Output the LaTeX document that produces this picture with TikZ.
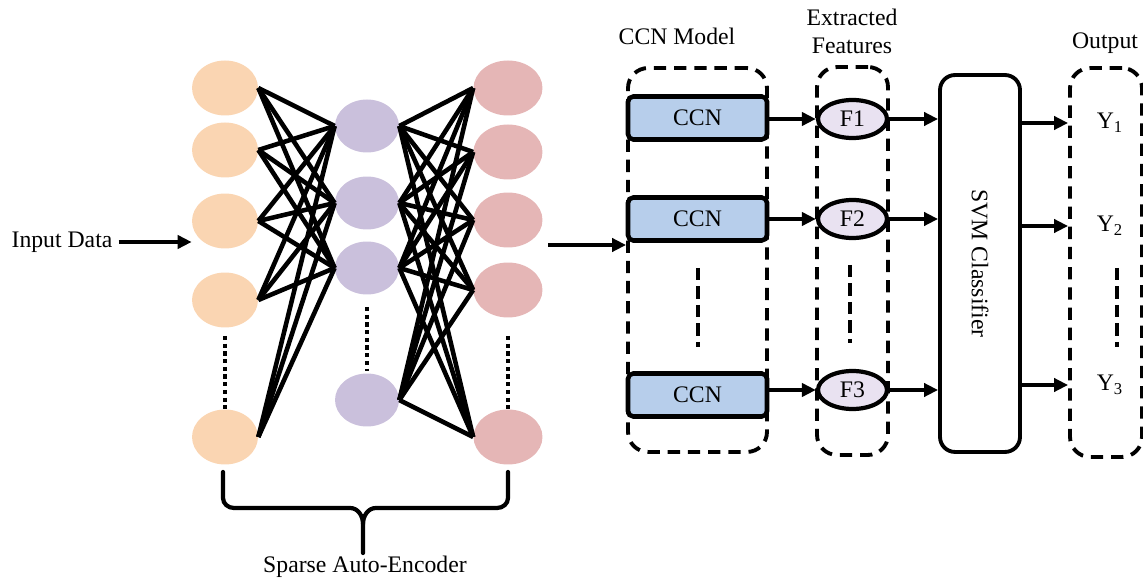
\documentclass[tikz,border=0pt]{standalone}
\usepackage{fontspec}
\setmainfont{Liberation Serif}
\usepackage{xcolor}
\usepackage{tikz}
\usetikzlibrary{shapes,arrows,positioning,calc,arrows.meta}

\definecolor{inorange}{RGB}{250,213,178}
\definecolor{hidpurple}{RGB}{202,192,220}
\definecolor{outpink}{RGB}{229,182,182}
\definecolor{ccnblue}{RGB}{183,206,235}
\definecolor{featlilac}{RGB}{233,226,241}

\begin{document}
\begin{tikzpicture}[
    x=0.02cm, y=-0.02cm,
    font=\fontsize{13.5}{16}\selectfont,
    neuron/.style={ellipse, inner sep=0pt, minimum width=1.32cm, minimum height=1.1cm},
    link/.style={line width=2.6pt},
    dotline/.style={line width=2.4pt, dash pattern=on 2.4pt off 2pt},
    dashline/.style={line width=2.4pt, dash pattern=on 7pt off 3.5pt},
    arr/.style={line width=2.2pt, -{Triangle[length=8pt,width=7.5pt]}},
    group/.style={draw, line width=2.2pt, dash pattern=on 7pt off 4.5pt, rounded corners=0.4cm, minimum width=#1},
    ccnbox/.style={draw, rectangle, line width=2.6pt, rounded corners=3pt, fill=ccnblue, minimum width=2.78cm, minimum height=0.86cm},
    feat/.style={draw, ellipse, line width=2.4pt, fill=featlilac, inner sep=0pt, minimum width=1.38cm, minimum height=0.76cm},
    brace/.style={line width=2.4pt, line cap=round}
]
    \useasboundingbox (0,0) rectangle (1143,580);

    % Sparse auto-encoder layers
    \foreach \i/\ypos in {1/88, 2/150, 3/221, 4/300, 5/437} {
        \node [neuron, fill=inorange] (in\i) at (225,\ypos) {};
    }
    \foreach \i/\ypos in {1/126, 2/203, 3/268, 4/400} {
        \node [neuron, fill=hidpurple, minimum width=1.28cm, minimum height=1.06cm] (hid\i) at (367,\ypos) {};
    }
    \foreach \i/\ypos in {1/88, 2/152, 3/220, 4/290, 5/437} {
        \node [neuron, fill=outpink, minimum width=1.38cm] (out\i) at (508,\ypos) {};
    }

    % Connections
    \foreach \a in {1,...,5} {
        \foreach \b in {1,2,3} {
            \draw [link] (in\a.east) -- (hid\b.west);
        }
    }
    \foreach \a in {1,...,4} {
        \foreach \b in {1,...,5} {
            \draw [link] (hid\a.east) -- (out\b.west);
        }
    }

    % Dots between neurons
    \draw [dotline] (in4.south) ++(0,8) -- (in5.north);
    \draw [dotline] (hid3.south) ++(0,12) -- ++(0,64);
    \draw [dotline] (out4.south) ++(0,18) -- (out5.north);

    % Input
    \node (inlabel) at (62,242) {Input Data};
    \draw [arr] (inlabel.east) -- (inlabel.east -| in3.west);

    % Brace
    \draw [brace] (223,472) -- (223,498) to[out=-90,in=180] (234,508) -- (350,508) to[out=0,in=90] (363,524) -- (363,553);
    \draw [brace] (508,472) -- (508,498) to[out=-90,in=0] (497,508) -- (376,508) to[out=180,in=90] (363,524);
    \node (saelabel) at (365,567) {Sparse Auto-Encoder};

    % CCN model
    \node [group=2.78cm, minimum height=7.68cm] (ccnwrap) at (697.5,260) {};
    \node (ccntitle) at (677,36) {CCN Model};
    \foreach \i/\ypos in {1/118, 2/219, 3/395} {
        \node [ccnbox] (ccn\i) at (697.5,\ypos) {CCN};
    }
    \draw [dashline] (698,268) -- (698,347);

    \coordinate (saeout) at (548,245);
    \draw [arr] (saeout) -- (saeout -| ccnwrap.west);

    % Extracted features
    \node [group=1.42cm, minimum height=7.76cm] (featwrap) at (852.5,261) {};
    \node [align=center] (feattitle) at (852,31) {Extracted\\Features};
    \foreach \i/\ypos in {1/119, 2/219, 3/390} {
        \node [feat] (feat\i) at (852.5,\ypos) {F\i};
        \draw [arr] (ccn\i.east |- feat\i) -- (feat\i.west);
    }
    \draw [dashline] (850,265) -- (850,343);

    % SVM
    \node [draw, rectangle, line width=2.2pt, rounded corners=0.3cm, minimum width=1.6cm, minimum height=7.54cm] (svm) at (980,263.5) {};
    \node [rotate=-90] (svmlabel) at (svm) {SVM Classifier};
    \foreach \i in {1,2,3} {
        \draw [arr] (feat\i.east) -- (svm.west |- feat\i);
    }

    % Output
    \node [group=1.44cm, minimum height=7.78cm] (outwrap) at (1106,262.5) {};
    \node (outtitle) at (1105,43) {Output};
    \foreach \i/\ypos in {1/123, 2/226, 3/385} {
        \node (y\i) at (1110,\ypos) {Y\textsubscript{\i}};
        \draw [arr] (svm.east |- y\i) -- (outwrap.west |- y\i);
    }
    \draw [dashline] (1117,268) -- (1117,347);
\end{tikzpicture}
\end{document}
